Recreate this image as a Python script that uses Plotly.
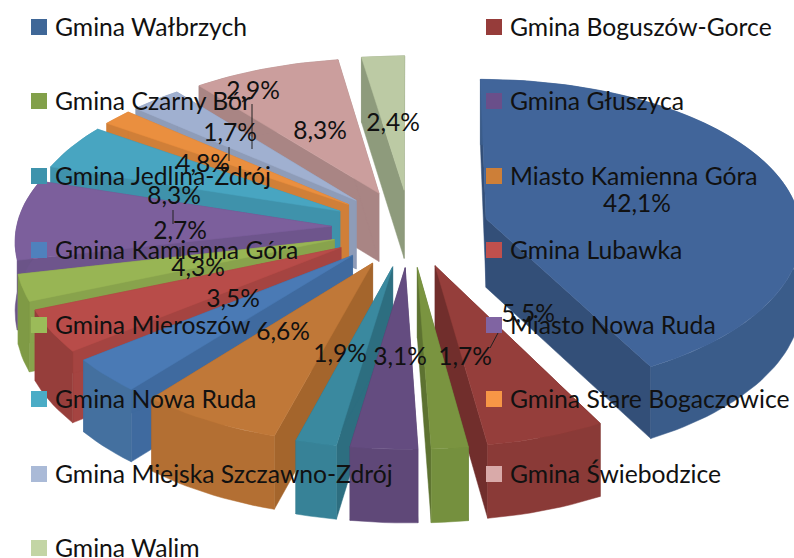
import math
import plotly.graph_objects as go

categories = ["Gmina Wałbrzych", "Gmina Boguszów-Gorce", "Gmina Czarny Bór", "Gmina Głuszyca",
              "Gmina Jedlina-Zdrój", "Miasto Kamienna Góra", "Gmina Kamienna Góra", "Gmina Lubawka",
              "Gmina Mieroszów", "Miasto Nowa Ruda", "Gmina Nowa Ruda", "Gmina Stare Bogaczowice",
              "Gmina Miejska Szczawno-Zdrój", "Gmina Świebodzice", "Gmina Walim"]
values = [42.1, 5.5, 1.7, 3.1, 1.9, 6.6, 3.5, 4.3, 2.7, 8.3, 4.8, 1.7, 2.9, 8.3, 2.4]

top_colors = ["#41659a", "#953e3b", "#7a9440", "#644c80", "#3a899f", "#c07838", "#4a7ab5", "#b84c49",
              "#98b554", "#7c5f9c", "#48a5c1", "#ea8f3f", "#a0b0d0", "#cb9e9d", "#bccaa4"]
rim_colors = ["#3a5c8a", "#8a3a37", "#75903e", "#5f4878", "#378297", "#b36f33", "#44709f", "#963e3b",
              "#7f9a45", "#6b5488", "#3f92ab", "#d07f38", "#8e9cb8", "#a98584", "#8e9b7c"]
wall_colors = ["#334f78", "#712e2c", "#5d7231", "#4e3b66", "#2d6e80", "#a4652c", "#3f6a9f", "#a54441",
               "#88a34c", "#6e558c", "#3f92ab", "#d07f38", "#8e9cb8", "#a98584", "#8e9b7c"]
legend_colors = ["#3f6797", "#963c3a", "#82a04a", "#6a4f8a", "#3e93ac", "#cd7f38", "#4f81bd", "#c0504d",
                 "#9bbb59", "#8064a2", "#4bacc6", "#f79646", "#aabad7", "#d9aaa9", "#c3d5a5"]

# layout of the labels and legend (picture pixels)
label_xy = [(637, 203), (528, 313), (465, 356), (400, 356), (340, 353), (283, 331), (233, 298), (198, 267),
            (180, 230), (174, 195), (203, 163), (230, 132), (253, 90), (320, 130), (393, 122)]
leaders = [((498, 333), (490, 348)), ((252, 104), (252, 149)), ((229, 147), (229, 161)),
           ((173, 210), (173, 224)), ((180, 247), (180, 257))]
legend_rows = [27, 101, 176, 250, 325, 399, 474, 548]
FONT = "Lato"
FS_LEGEND = 24.7
FS_LABEL = 24.5
TEXT_DY = 3

# oblique perspective of the exploded pie
CX, CY, KX, KY, PERSP_X, PERSP_Y, DEPTH, PULL = 410, 228, 315, 155, 0.08, 0.10, 69, 0.25


def proj(x, y):
    return CX + KX * x / (1 + PERSP_X * y), CY - KY * y / (1 + PERSP_Y * y)


def drop(y):
    return DEPTH / (1 + 0.05 * y)


def poly(xs, ys, color, name):
    return go.Scatter(x=xs + xs[:1], y=ys + ys[:1], mode="lines", fill="toself", fillcolor=color,
                      line=dict(color=color, width=0.5), hoverinfo="skip", showlegend=False, name=name)


total = sum(values)
slices = []
cum = 0.0
for i, v in enumerate(values):
    a0 = cum / total * 2 * math.pi
    cum += v
    a1 = cum / total * 2 * math.pi
    slices.append((i, a0, a1, (a0 + a1) / 2))

fig = go.Figure()
for i, a0, a1, mid in sorted(slices, key=lambda s: -math.cos(s[3])):
    ox, oy = PULL * math.sin(mid), PULL * math.cos(mid)
    n = max(3, int((a1 - a0) / 0.03))
    angs = [a0 + (a1 - a0) * k / n for k in range(n + 1)]
    rim = [(ox + math.sin(a), oy + math.cos(a)) for a in angs]
    apex_s = proj(ox, oy)
    rim_s = [proj(*p) for p in rim]
    rim_b = [(q[0], q[1] + drop(p[1])) for p, q in zip(rim, rim_s)]
    apex_b = (apex_s[0], apex_s[1] + drop(oy))
    name = categories[i]
    for top_pt, bot_pt in ((rim_s[0], rim_b[0]), (rim_s[-1], rim_b[-1])):
        fig.add_trace(poly([apex_s[0], top_pt[0], bot_pt[0], apex_b[0]],
                           [apex_s[1], top_pt[1], bot_pt[1], apex_b[1]], wall_colors[i], name))
    fig.add_trace(poly([p[0] for p in rim_s] + [p[0] for p in rim_b[::-1]],
                       [p[1] for p in rim_s] + [p[1] for p in rim_b[::-1]], rim_colors[i], name))
    fig.add_trace(poly([apex_s[0]] + [p[0] for p in rim_s], [apex_s[1]] + [p[1] for p in rim_s],
                       top_colors[i], name))

for (p, q) in leaders:
    fig.add_trace(go.Scatter(x=[p[0], q[0]], y=[p[1], q[1]], mode="lines", line=dict(color="#222", width=1),
                             hoverinfo="skip", showlegend=False))

# legend, two columns read row by row
for i, (name, col) in enumerate(zip(categories, legend_colors)):
    r = legend_rows[i // 2]
    mx, tx = (39, 55) if i % 2 == 0 else (494, 510)
    fig.add_trace(go.Scatter(x=[mx], y=[r], mode="markers", marker=dict(symbol="square", size=16, color=col),
                             hoverinfo="skip", showlegend=False))
    fig.add_trace(go.Scatter(x=[tx], y=[r + TEXT_DY], mode="text", text=[name], textposition="middle right",
                             textfont=dict(family=FONT, size=FS_LEGEND, color="#111"), hoverinfo="skip", showlegend=False))

labels = [f"{v:.1f}%".replace(".", ",") for v in values]
fig.add_trace(go.Scatter(x=[p[0] for p in label_xy], y=[p[1] + TEXT_DY for p in label_xy], mode="text", text=labels,
                         textposition="middle center", textfont=dict(family=FONT, size=FS_LABEL, color="#111"),
                         hoverinfo="skip", showlegend=False))

fig.update_layout(width=794, height=558, margin=dict(l=0, r=0, t=0, b=0), paper_bgcolor="white",
                  plot_bgcolor="white", showlegend=False,
                  xaxis=dict(range=[0, 794], visible=False, fixedrange=True),
                  yaxis=dict(range=[558, 0], visible=False, fixedrange=True))
fig.write_html("out.html", config=dict(displayModeBar=False),
               post_script="document.body.style.margin='0';document.body.style.overflow='hidden';")
